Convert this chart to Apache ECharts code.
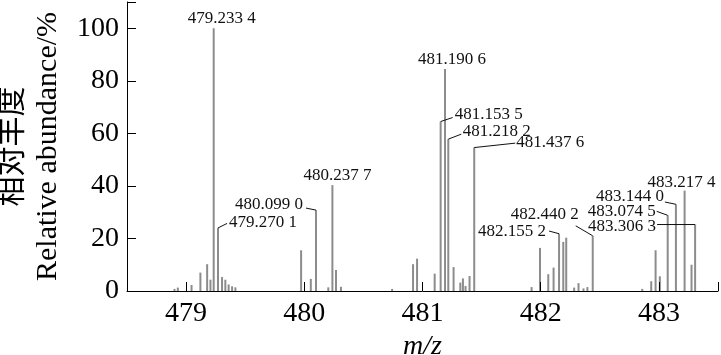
<!DOCTYPE html>
<html>
<head>
<meta charset="utf-8">
<script src="https://cdn.jsdelivr.net/npm/echarts@6/dist/echarts.min.js"></script>
<style>
html,body{margin:0;padding:0;background:#fff;}
#chart{width:721px;height:355px;}
</style>
</head>
<body>
<div id="chart"></div>
<script>
// ---- data ----
const mz = [
  478.902, 478.930, 479.046, 479.121, 479.178, 479.206, 479.2334, 479.2701, 479.304, 479.332, 479.360, 479.389, 479.417,
  479.973, 480.055, 480.0990, 480.203, 480.2377, 480.268, 480.310,
  480.743, 480.920, 480.954, 481.103, 481.1535, 481.1906, 481.2182, 481.263, 481.320, 481.342, 481.364, 481.398, 481.4376,
  481.923, 481.994, 482.064, 482.109, 482.1552, 482.191, 482.216, 482.283, 482.320, 482.362, 482.395, 482.4402,
  482.859, 482.935, 482.972, 483.008, 483.0745, 483.1440, 483.2174, 483.276, 483.3063
];
const abundance = [
  0.8, 1.3, 2.3, 7.0, 10.2, 4.3, 100, 24.0, 5.3, 4.3, 2.5, 1.8, 1.4,
  15.5, 4.6, 30.8, 1.4, 40.3, 8.0, 1.6,
  0.8, 10.2, 12.3, 6.6, 64.5, 84.5, 57.8, 9.1, 3.2, 4.8, 1.9, 5.7, 54.6,
  1.5, 16.4, 6.4, 8.9, 21.8, 18.7, 20.3, 1.3, 3.0, 1.0, 1.5, 21.0,
  0.8, 3.7, 15.5, 5.6, 28.8, 33.0, 38.2, 10.0, 25.3
];
const peakLabels = [
  '479.233 4', '479.270 1', '480.099 0', '480.237 7', '481.190 6', '481.153 5', '481.218 2',
  '481.437 6', '482.155 2', '482.440 2', '483.074 5', '483.144 0', '483.217 4', '483.306 3'
];
const xTicks = [479, 480, 481, 482, 483];
const yTicks = [0, 20, 40, 60, 80, 100];
const xName = 'm/z';
const yNameCn = '相对丰度';
const yNameEn = 'Relative abundance/%';

// ---- label placement (pixel offsets from peak top) ----
const labelLayout = [
  {dx: 8,   dy: -10, align: 'center'},
  {dx: 11,  dy: -5,  align: 'left',  line: [9, -4.5]},
  {dx: -13, dy: -6,  align: 'right', line: [-10, -2]},
  {dx: 5,   dy: -10, align: 'center'},
  {dx: 7,   dy: -9,  align: 'center'},
  {dx: 14,  dy: -7,  align: 'left',  line: [12, -4]},
  {dx: 14.5,dy: -8,  align: 'left',  line: [13, -5]},
  {dx: 42,  dy: -5,  align: 'left',  line: [41, -4.4]},
  {dx: -13, dy: -2.5,align: 'right', line: [-10, -2.7]},
  {dx: -14, dy: -21, align: 'right', line: [-17, -10]},
  {dx: -12, dy: -4,  align: 'right', line: [-11, -4]},
  {dx: -12, dy: -8,  align: 'right', line: [-11, -2.3]},
  {dx: -3,  dy: -8,  align: 'center'},
  {dx: -39, dy: 2,   align: 'right', line: [-38, 0]}
];

const barData = mz.map((m, i) => [m, abundance[i]]);
const labelData = peakLabels.map((t, i) => {
  const v = parseFloat(t.replace(/\s/g, ''));
  let best = 0;
  mz.forEach((m, j) => { if (Math.abs(m - v) < Math.abs(mz[best] - v)) best = j; });
  return [mz[best], abundance[best], i];
});

const serif = '"Liberation Serif", "Times New Roman", "Noto Sans CJK SC", serif';

const chart = echarts.init(document.getElementById('chart'), null, {renderer: 'canvas'});
chart.setOption({
  animation: false,
  backgroundColor: '#fff',
  grid: {left: 127, right: 3, top: 2, bottom: 64, containLabel: false, outerBoundsMode: 'none'},
  xAxis: {
    type: 'value', min: 478.5, max: 483.5,
    splitLine: {show: false},
    axisLine: {lineStyle: {color: '#000', width: 1}},
    axisTick: {inside: true, length: 9, lineStyle: {color: '#000'}, customValues: xTicks.concat([483.5])},
    axisLabel: {customValues: xTicks, color: '#000', fontFamily: serif, fontSize: 28, margin: 9},
    name: xName, nameLocation: 'middle', nameGap: 36,
    nameTextStyle: {color: '#000', fontFamily: serif, fontSize: 28, fontStyle: 'italic'},
    z: 5
  },
  yAxis: {
    type: 'value', min: 0, max: 110,
    splitLine: {show: false},
    axisLine: {show: true, lineStyle: {color: '#000', width: 1}},
    axisTick: {show: true, inside: true, length: 9, lineStyle: {color: '#000'}, customValues: yTicks.concat([110])},
    axisLabel: {customValues: yTicks, color: '#000', fontFamily: serif, fontSize: 28, margin: 8},
    name: yNameCn + '\n' + yNameEn, nameLocation: 'middle', nameGap: 50, nameRotate: 90,
    nameTextStyle: {color: '#000', fontFamily: serif, fontSize: 30, lineHeight: 35, align: 'center'},
    z: 5
  },
  series: [
    {
      type: 'bar', data: barData, barWidth: 2,
      itemStyle: {color: '#8c8c8c'},
      silent: true
    },
    {
      type: 'custom', data: labelData, clip: false, silent: true, z: 10,
      encode: {x: 0, y: 1},
      renderItem: function (params, api) {
        const p = api.coord([api.value(0), api.value(1)]);
        const L = labelLayout[api.value(2)];
        const children = [{
          type: 'text',
          style: {
            x: p[0] + L.dx, y: p[1] + L.dy,
            text: peakLabels[api.value(2)],
            fill: '#111', font: '17px ' + serif,
            align: L.align, verticalAlign: 'middle'
          }
        }];
        if (L.line) {
          children.push({
            type: 'line',
            shape: {x1: p[0], y1: p[1], x2: p[0] + L.line[0], y2: p[1] + L.line[1]},
            style: {stroke: '#111', lineWidth: 1}
          });
        }
        return {type: 'group', children: children};
      }
    }
  ]
});
</script>
</body>
</html>
